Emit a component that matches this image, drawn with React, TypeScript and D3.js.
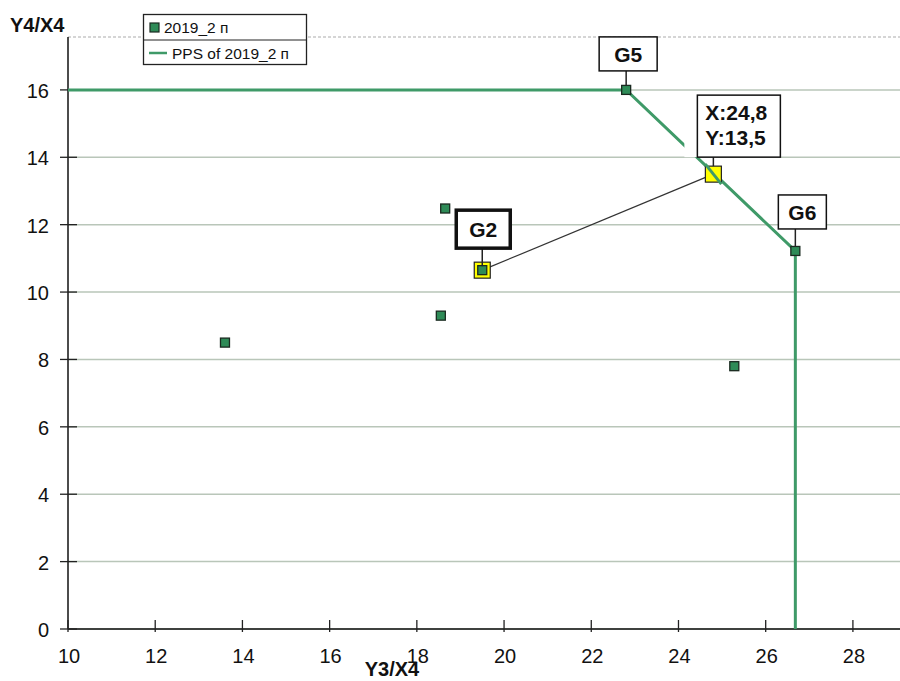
import * as d3 from "d3";

const pointX = [13.6, 18.55, 18.65, 19.5, 22.8, 26.68, 25.28];
const pointY = [8.5, 9.3, 12.48, 10.65, 16, 11.22, 7.8];
const pointNames = ["", "", "", "G2", "G5", "G6", ""];

const frontierX = [10, 22.8, 26.68, 26.68];
const frontierY = [16, 16, 11.22, 0];

const targetX = 24.8;
const targetY = 13.5;

const xTicks = [10, 12, 14, 16, 18, 20, 22, 24, 26, 28];
const yTicks = [0, 2, 4, 6, 8, 10, 12, 14, 16];

const seriesName = "2019_2 п";
const frontierName = "PPS of 2019_2 п";

const width = 900;
const height = 681;
const font = "'Liberation Sans', Arial, sans-serif";
const green = "#2e8b57";
const lineGreen = "#3f9a68";

export default function App() {
  const x = d3.scaleLinear().domain([10, 29.08]).range([68, 900]);
  const y = d3.scaleLinear().domain([0, 17.57]).range([629, 37]);

  const frontier = frontierX.map((v, i) => [v, frontierY[i]] as [number, number]);
  const line = d3
    .line<[number, number]>()
    .x((d) => x(d[0]))
    .y((d) => y(d[1]));

  const g2 = pointNames.indexOf("G2");

  // label boxes: [name, left offset from point, width, height, gap, thick border]
  const labels: [string, number, number, number, number, boolean][] = [
    ["G5", -27, 58, 34, 19, false],
    ["G6", -17, 48, 34, 22, false],
    ["G2", -26, 54, 38, 22, true],
  ];

  const tx = x(targetX);
  const ty = y(targetY);

  return (
    <svg
      width={width}
      height={height}
      style={{ position: "absolute", left: 0, top: 0, fontFamily: font }}
    >
      <rect width={width} height={height} fill="white" />

      {/* grid */}
      {yTicks.concat([17.57]).map((t) => (
        <line
          key={t}
          x1={x(10)}
          x2={width}
          y1={y(t)}
          y2={y(t)}
          stroke={t === 17.57 ? "#c8c8c8" : "#b9c6b9"}
          strokeWidth={1.5}
          strokeDasharray={t === 17.57 ? "3,2" : undefined}
        />
      ))}

      {/* axes */}
      <line x1={x(10)} x2={x(10)} y1={y(17.57)} y2={y(0)} stroke="#111" strokeWidth={1.5} />
      <line x1={x(10)} x2={width} y1={y(0)} y2={y(0)} stroke="#111" strokeWidth={1.5} />
      {yTicks.map((t) => (
        <g key={t}>
          <line x1={x(10) - 8} x2={x(10) + 9} y1={y(t)} y2={y(t)} stroke="#222" strokeWidth={1.3} />
          <text x={49} y={y(t) + 8} textAnchor="end" fontSize={20} fill="#111">
            {t}
          </text>
        </g>
      ))}
      {xTicks.map((t) => (
        <g key={t}>
          <line x1={x(t)} x2={x(t)} y1={y(0) - 9} y2={y(0) + 3} stroke="#222" strokeWidth={1.3} />
          <text x={x(t) + 1} y={y(0) + 34} textAnchor="middle" fontSize={20} fill="#111">
            {t}
          </text>
        </g>
      ))}
      <text x={10} y={32} fontSize={20} fontWeight="bold" fill="#111">
        Y4/X4
      </text>
      <text x={392} y={676} textAnchor="middle" fontSize={20} fontWeight="bold" fill="#111">
        Y3/X4
      </text>

      {/* frontier */}
      <path d={line(frontier) ?? ""} fill="none" stroke={lineGreen} strokeWidth={3} />

      {/* projection line */}
      <line
        x1={x(pointX[g2])}
        y1={y(pointY[g2])}
        x2={tx}
        y2={ty}
        stroke="#333"
        strokeWidth={1.2}
      />

      {/* G2 highlight */}
      <rect
        x={x(pointX[g2]) - 8}
        y={y(pointY[g2]) - 8}
        width={16}
        height={16}
        fill="yellow"
        stroke="#222"
        strokeWidth={1.2}
      />

      {/* points */}
      {pointX.map((v, i) => (
        <rect
          key={i}
          x={x(v) - 4.5}
          y={y(pointY[i]) - 4.5}
          width={9}
          height={9}
          fill={green}
          stroke="#1a2a20"
          strokeWidth={1.3}
        />
      ))}

      {/* target point */}
      <rect x={tx - 8} y={ty - 8} width={16} height={16} fill="yellow" stroke="#222" strokeWidth={1.2} />
      <line x1={tx - 8} y1={ty - 10} x2={tx + 8} y2={ty + 10} stroke={lineGreen} strokeWidth={3} />

      {/* point labels */}
      {labels.map(([name, dx, w, h, gap, thick]) => {
        const i = pointNames.indexOf(name);
        const px = x(pointX[i]);
        const py = y(pointY[i]);
        const bottom = py - gap;
        return (
          <g key={name}>
            <line x1={px} x2={px} y1={bottom} y2={py - 4} stroke="#222" strokeWidth={1.5} />
            <rect
              x={px + dx}
              y={bottom - h}
              width={w}
              height={h}
              fill="white"
              stroke="#111"
              strokeWidth={thick ? 3.5 : 1.5}
            />
            <text
              x={px + dx + w / 2}
              y={bottom - h / 2 + 8}
              textAnchor="middle"
              fontSize={21}
              fontWeight="bold"
              fill="#111"
            >
              {name}
            </text>
          </g>
        );
      })}

      {/* target label */}
      <g>
        <rect x={tx - 29} y={ty - 79} width={96} height={62} fill="white" />
        <line x1={tx} x2={tx} y1={ty - 17} y2={ty - 8} stroke="#222" strokeWidth={1.5} />
        <rect x={tx - 16} y={ty - 79} width={83} height={62} fill="white" stroke="#111" strokeWidth={1.5} />
        <text x={tx - 8} y={ty - 54} fontSize={21} fontWeight="bold" fill="#111">
          {`X:${d3.format(".1f")(targetX).replace(".", ",")}`}
        </text>
        <text x={tx - 8} y={ty - 29} fontSize={21} fontWeight="bold" fill="#111">
          {`Y:${d3.format(".1f")(targetY).replace(".", ",")}`}
        </text>
      </g>

      {/* legend */}
      <g>
        <rect x={143.5} y={14.5} width={163} height={50} fill="white" stroke="#222" strokeWidth={1.3} />
        <line x1={143.5} x2={306.5} y1={40} y2={40} stroke="#222" strokeWidth={1} />
        <rect x={150} y={23} width={9} height={9} fill={green} stroke="#1a2a20" strokeWidth={1.2} />
        <text x={164} y={33} fontSize={15.5} fill="#111">
          {seriesName}
        </text>
        <line x1={149} x2={167} y1={53} y2={53} stroke={lineGreen} strokeWidth={2.5} />
        <text x={172} y={59} fontSize={15.5} fill="#111">
          {frontierName}
        </text>
      </g>
    </svg>
  );
}
